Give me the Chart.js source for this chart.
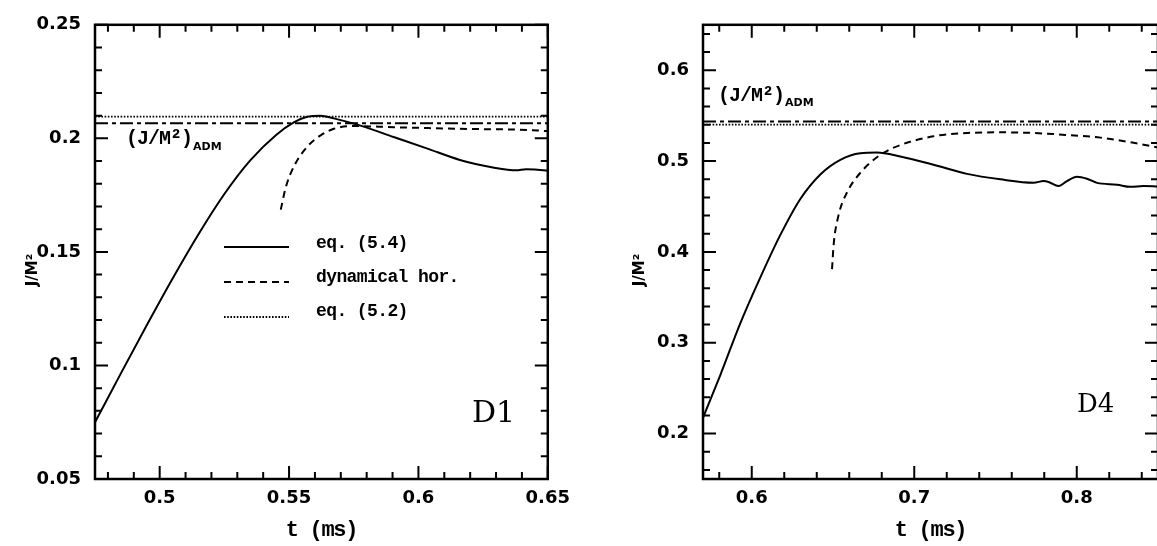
<!DOCTYPE html>
<html><head><meta charset="utf-8">
<script src="https://cdn.jsdelivr.net/npm/chart.js@4.4.1/dist/chart.umd.min.js"></script>
<style>
html,body{margin:0;padding:0;background:#fff;overflow:hidden;}
#wrap{position:relative;width:1157px;height:546px;overflow:hidden;background:#fff;}
canvas{position:absolute;top:0;}
</style></head><body>
<div id="wrap">
<canvas id="c1" width="579" height="546" style="left:0"></canvas>
<canvas id="c2" width="588" height="546" style="left:600px"></canvas>
</div>
<script>
// ---------------- data ----------------
// Panel D1
const d1TimeEq54 = [0.475, 0.485, 0.495, 0.505, 0.515, 0.525, 0.535, 0.545, 0.552, 0.557, 0.5622, 0.5673, 0.5776, 0.5904, 0.6032, 0.6160, 0.6288, 0.6378, 0.6416, 0.6494, 0.65];
const d1JEq54    = [0.0750, 0.0965, 0.1177, 0.1383, 0.1578, 0.1755, 0.1903, 0.2015, 0.2071, 0.2095, 0.2100, 0.2088, 0.2056, 0.2006, 0.1956, 0.1905, 0.1872, 0.1859, 0.1864, 0.1858, 0.1857];
const d1TimeHor  = [0.5468, 0.5487, 0.5519, 0.5570, 0.5622, 0.5673, 0.5750, 0.5904, 0.6160, 0.6494, 0.65];
const d1JHor     = [0.1686, 0.1783, 0.1877, 0.1963, 0.2013, 0.2042, 0.2054, 0.2049, 0.2042, 0.2032, 0.2031];
const d1JEq52 = 0.2096;
const d1JAdm  = 0.2066;
// Panel D4
const d4TimeEq54 = [0.57, 0.5806, 0.5930, 0.6053, 0.6176, 0.6299, 0.6422, 0.6545, 0.6668, 0.6771, 0.6914, 0.7119, 0.7325, 0.7530, 0.7735, 0.7796, 0.7827, 0.7888, 0.7940, 0.8001, 0.8063, 0.8125, 0.8248, 0.8330, 0.8411, 0.85];
const d4JEq54    = [0.2174, 0.2642, 0.3217, 0.3720, 0.4187, 0.4583, 0.4853, 0.5014, 0.5086, 0.5093, 0.5050, 0.4960, 0.4859, 0.4799, 0.4762, 0.4780, 0.4770, 0.4726, 0.4780, 0.4827, 0.4805, 0.4760, 0.4740, 0.4716, 0.4726, 0.4719];
const d4TimeHor  = [0.6494, 0.6504, 0.6534, 0.6586, 0.6668, 0.6791, 0.6914, 0.7119, 0.7325, 0.7530, 0.7735, 0.7940, 0.8145, 0.8350, 0.85];
const d4JHor     = [0.381, 0.408, 0.4403, 0.4654, 0.4870, 0.5068, 0.5176, 0.5273, 0.5309, 0.5316, 0.5309, 0.5287, 0.5258, 0.5201, 0.5150];
const d4JEq52 = 0.5402;
const d4JAdm  = 0.5435;
// ticks
const d1XTicks = [0.5, 0.55, 0.6, 0.65];
const d1XTickLabels = ['0.5', '0.55', '0.6', '0.65'];
const d1YTicks = [0.05, 0.1, 0.15, 0.2, 0.25];
const d1YTickLabels = ['0.05', '0.1', '0.15', '0.2', '0.25'];
const d4XTicks = [0.6, 0.7, 0.8];
const d4XTickLabels = ['0.6', '0.7', '0.8'];
const d4YTicks = [0.2, 0.3, 0.4, 0.5, 0.6];
const d4YTickLabels = ['0.2', '0.3', '0.4', '0.5', '0.6'];
const seriesLabels = ['eq. (5.4)', 'dynamical hor.', 'eq. (5.2)', '(J/M²)ADM'];
const xTitle = 't (ms)';
const yTitle = 'J/M²';
const panelNames = ['D1', 'D4'];

// ---------------- helpers ----------------
function pts(xs, ys) { return xs.map((x, i) => ({ x: x, y: ys[i] })); }
function minorValues(min, max, step) {
  const out = [];
  let k = Math.ceil(min / step - 1e-9);
  while (k * step <= max + 1e-9) { out.push(+(k * step).toFixed(6)); k++; }
  return out;
}
const MONO = '"Liberation Mono", "DejaVu Sans Mono", monospace';
const SANS = '"DejaVu Sans", sans-serif';
function setLS(ctx, v) { try { ctx.letterSpacing = v; } catch (e) {} }

const framePlugin = {
  id: 'frame',
  afterDatasetsDraw(chart, args, o) {
    const { ctx, chartArea: a } = chart;
    const xs = chart.scales.x, ys = chart.scales.y;
    const isMajor = (v, arr) => arr.some(m => Math.abs(m - v) < 1e-6);
    ctx.save();
    ctx.strokeStyle = '#000';
    ctx.lineWidth = 2;
    ctx.beginPath();
    minorValues(xs.min, xs.max, o.xMinor).forEach(v => {
      const p = xs.getPixelForValue(v);
      const L = isMajor(v, o.xMajor) ? 13 : 7;
      ctx.moveTo(p, a.bottom); ctx.lineTo(p, a.bottom - L);
      ctx.moveTo(p, a.top); ctx.lineTo(p, a.top + L);
    });
    minorValues(ys.min, ys.max, o.yMinor).forEach(v => {
      const p = ys.getPixelForValue(v);
      const L = isMajor(v, o.yMajor) ? 13 : 7;
      ctx.moveTo(a.left, p); ctx.lineTo(a.left + L, p);
      ctx.moveTo(a.right, p); ctx.lineTo(a.right - L, p);
    });
    ctx.stroke();
    ctx.lineWidth = 2.5;
    ctx.strokeRect(a.left, a.top, a.right - a.left, a.bottom - a.top);
    ctx.restore();
  }
};

const notePlugin = {
  id: 'notes',
  afterDraw(chart, args, o) {
    const ctx = chart.ctx;
    const a = chart.chartArea;
    ctx.save();
    ctx.fillStyle = '#000';
    // x-axis title
    ctx.font = 'bold 22px ' + MONO;
    setLS(ctx, '-1.3px');
    ctx.textAlign = 'center';
    ctx.textBaseline = 'middle';
    ctx.fillText(xTitle, (a.left + a.right) / 2, o.xTitleY);
    setLS(ctx, '0px');
    // y-axis title (rotated)
    ctx.save();
    ctx.translate(o.yTitleX, o.yTitleY);
    ctx.rotate(-Math.PI / 2);
    ctx.font = 'bold 15px ' + SANS;
    ctx.textAlign = 'center';
    ctx.textBaseline = 'middle';
    ctx.fillText(yTitle, 0, 0);
    ctx.restore();
    // panel name
    ctx.font = o.panelFont;
    ctx.textAlign = 'left';
    ctx.textBaseline = 'alphabetic';
    ctx.fillText(o.panel, o.panelX, o.panelY);
    // ADM label
    ctx.font = 'bold 20px ' + MONO;
    setLS(ctx, '-1px');
    ctx.textBaseline = 'middle';
    ctx.fillText('(J/M²)', o.admX, o.admY);
    const w = ctx.measureText('(J/M²)').width;
    setLS(ctx, '0px');
    ctx.font = 'bold 11px ' + SANS;
    ctx.textBaseline = 'alphabetic';
    ctx.fillText('ADM', o.admX + w + 1, o.admSubY);
    // legend
    if (o.legend) {
      const L = o.legend;
      chart.data.datasets.slice(0, 3).forEach((ds, i) => {
        ctx.save();
        ctx.strokeStyle = ds.borderColor;
        ctx.lineWidth = ds.borderWidth;
        ctx.setLineDash(ds.borderDash || []);
        ctx.beginPath();
        ctx.moveTo(L.x0, L.lineY[i]);
        ctx.lineTo(L.x1, L.lineY[i]);
        ctx.stroke();
        ctx.restore();
        ctx.font = 'bold 18px ' + MONO;
        setLS(ctx, '-0.6px');
        ctx.textBaseline = 'middle';
        ctx.fillText(ds.label, L.textX, L.textY[i]);
        setLS(ctx, '0px');
      });
    }
    ctx.restore();
  }
};

function makeChart(id, c) {
  const datasets = [
    { label: seriesLabels[0], data: pts(c.t54, c.j54), borderColor: '#000', borderWidth: 2, borderDash: [] },
    { label: seriesLabels[1], data: pts(c.tHor, c.jHor), borderColor: '#000', borderWidth: 2, borderDash: [7, 5] },
    { label: seriesLabels[2], data: pts([c.xMin, c.xMax], [c.eq52, c.eq52]), borderColor: '#000', borderWidth: 1.8, borderDash: [1.6, 1.6] },
    { label: seriesLabels[3], data: pts([c.xMin, c.xMax], [c.adm, c.adm]), borderColor: '#000', borderWidth: 2, borderDash: [13, 4, 4, 4] }
  ];
  datasets.forEach(d => { d.pointRadius = 0; d.cubicInterpolationMode = 'monotone'; d.fill = false; });
  return new Chart(document.getElementById(id), {
    type: 'line',
    data: { datasets: datasets },
    plugins: [framePlugin, notePlugin],
    options: {
      responsive: false,
      animation: false,
      events: [],
      layout: { padding: { left: 0, right: 30, top: 16, bottom: 0 } },
      plugins: {
        legend: { display: false },
        tooltip: { enabled: false },
        frame: { xMinor: c.xMinor, yMinor: c.yMinor, xMajor: c.xTicks, yMajor: c.yTicks },
        notes: c.notes
      },
      scales: {
        x: {
          type: 'linear', min: c.xMin, max: c.xMax,
          grid: { display: false, drawTicks: false },
          border: { display: false },
          afterBuildTicks: s => { s.ticks = c.xTicks.map(v => ({ value: v })); },
          afterFit: s => { s.height = 67; },
          ticks: {
            padding: 9, maxRotation: 0, autoSkip: false, color: '#000',
            font: { family: SANS, size: 18, weight: 'bold' },
            callback: v => { const i = c.xTicks.findIndex(m => Math.abs(m - v) < 1e-6); return i >= 0 ? c.xLabels[i] : ''; }
          },
          title: { display: false }
        },
        y: {
          type: 'linear', min: c.yMin, max: c.yMax,
          grid: { display: false, drawTicks: false },
          border: { display: false },
          afterBuildTicks: s => { s.ticks = c.yTicks.map(v => ({ value: v })); },
          afterFit: s => { s.width = c.yAxisWidth; },
          ticks: {
            padding: 14, autoSkip: false, color: '#000',
            font: { family: SANS, size: 18, weight: 'bold' },
            callback: v => { const i = c.yTicks.findIndex(m => Math.abs(m - v) < 1e-6); return i >= 0 ? c.yLabels[i] : ''; }
          },
          title: { display: false }
        }
      }
    }
  });
}

makeChart('c1', {
  t54: d1TimeEq54, j54: d1JEq54, tHor: d1TimeHor, jHor: d1JHor, eq52: d1JEq52, adm: d1JAdm,
  xMin: 0.475, xMax: 0.65, yMin: 0.05, yMax: 0.25, xMinor: 0.01, yMinor: 0.01,
  xTicks: d1XTicks, xLabels: d1XTickLabels, yTicks: d1YTicks, yLabels: d1YTickLabels,
  yAxisWidth: 95,
  notes: {
    xTitleY: 530, yTitleX: 33, yTitleY: 270,
    panel: panelNames[0], panelFont: '30px "DejaVu Serif", serif', panelX: 472, panelY: 422,
    admX: 126, admY: 139, admSubY: 150,
    legend: { x0: 224, x1: 289, lineY: [247, 282, 317], textX: 316, textY: [243, 277, 311] }
  }
});

makeChart('c2', {
  t54: d4TimeEq54, j54: d4JEq54, tHor: d4TimeHor, jHor: d4JHor, eq52: d4JEq52, adm: d4JAdm,
  xMin: 0.57, xMax: 0.85, yMin: 0.15, yMax: 0.65, xMinor: 0.02, yMinor: 0.02,
  xTicks: d4XTicks, xLabels: d4XTickLabels, yTicks: d4YTicks, yLabels: d4YTickLabels,
  yAxisWidth: 103,
  notes: {
    xTitleY: 530, yTitleX: 40, yTitleY: 270,
    panel: panelNames[1], panelFont: '26px "DejaVu Serif", serif', panelX: 477, panelY: 412,
    admX: 118, admY: 96, admSubY: 106,
    legend: null
  }
});
</script>
</body></html>
